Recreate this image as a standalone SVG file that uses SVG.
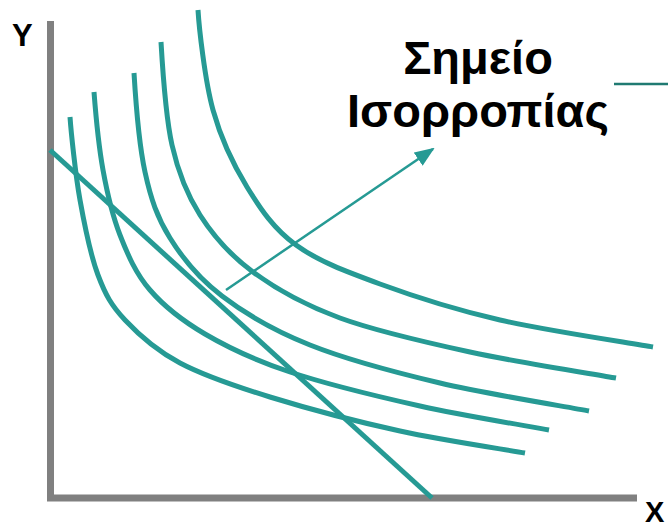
<svg xmlns="http://www.w3.org/2000/svg" width="668" height="529" viewBox="0 0 668 529">
  <style>
    .axis { stroke: #808080; stroke-width: 7; fill: none; }
    .curve { stroke: #269a94; stroke-width: 5; fill: none; }
    .budget { stroke: #269a94; stroke-width: 5; fill: none; }
    .pointer { stroke: #269a94; stroke-width: 2.5; fill: none; }
    .label { font-family: "Liberation Sans", Arial, sans-serif; font-weight: bold; fill: #000; }
  </style>
  <defs>
    <marker id="arrowhead" markerUnits="userSpaceOnUse" markerWidth="20" markerHeight="16" refX="18" refY="8" orient="auto">
      <path d="M0,0 L20,8 L0,16 Z" fill="#269a94"/>
    </marker>
  </defs>
  <rect width="668" height="529" fill="#ffffff"/>

  <!-- axes -->
  <g id="axes">
    <line class="axis" x1="50.5" y1="21" x2="50.5" y2="501"/>
    <line class="axis" x1="47" y1="498" x2="637" y2="498"/>
    <text class="label" x="12" y="46" font-size="31">Y</text>
    <text class="label" x="645" y="522" font-size="29">X</text>
  </g>

  <!-- indifference curves, innermost to outermost -->
  <g id="curves">
    <path id="curve-1" class="curve" d="M70,117 C71,131 75.3,173.7 80,200 C84.7,226.3 90.5,255 98,275 C105.5,295 111.3,305.3 125,320 C138.7,334.7 155.8,350.2 180,363 C204.2,375.8 233.3,385.7 270,397 C306.7,408.3 357.5,421.7 400,431 C442.5,440.3 504.2,449.3 525,453"/>
    <path id="curve-2" class="curve" d="M94,92 C95,105 98.7,146.2 103,170 C107.3,193.8 112.2,215 120,235 C127.8,255 135.8,273.5 150,290 C164.2,306.5 181.7,320.3 205,334 C228.3,347.7 254.2,360 290,372 C325.8,384 376.8,396.3 420,406 C463.2,415.7 527.5,426 549,430"/>
    <path id="curve-3" class="curve" d="M134,73 C135,89.5 139,144.5 145,172 C151,199.5 157.2,217.3 170,238 C182.8,258.7 198.7,278.2 222,296 C245.3,313.8 273.7,330.5 310,345 C346.3,359.5 393.5,372 440,383 C486.5,394 564.2,406.3 589,411"/>
    <path id="curve-4" class="curve" d="M161,42 C162,59 165.5,116.2 172,145 C178.5,173.8 186.5,193.8 200,215 C213.5,236.2 229.7,254.8 253,272 C276.3,289.2 303.8,304.7 340,318 C376.2,331.3 424,342 470,352 C516,362 591.7,373.7 616,378"/>
    <path id="curve-5" class="curve" d="M198,10 C199,26.7 204.8,80.5 213,110 C221.2,139.5 233.2,164.5 247,187 C260.8,209.5 273.8,228.8 296,245 C318.2,261.2 346,271.5 380,284 C414,296.5 454.5,309.5 500,320 C545.5,330.5 627.5,342.5 653,347"/>
  </g>

  <!-- budget line -->
  <g id="budget-line">
    <line class="budget" x1="50" y1="150" x2="432" y2="498"/>
  </g>

  <!-- connectors: pointer from the tangency point to the label -->
  <g id="connectors">
    <line class="pointer" x1="226" y1="290" x2="433" y2="149" marker-end="url(#arrowhead)"/>
  </g>

  <!-- equilibrium label -->
  <g id="equilibrium-label">
    <text class="label" x="478" y="74" font-size="47" text-anchor="middle">Σημείο</text>
    <text class="label" x="478" y="127" font-size="47" text-anchor="middle">Ισορροπίας</text>
    <line x1="614" y1="84" x2="668" y2="84" stroke="#207a72" stroke-width="2.5"/>
  </g>
</svg>
